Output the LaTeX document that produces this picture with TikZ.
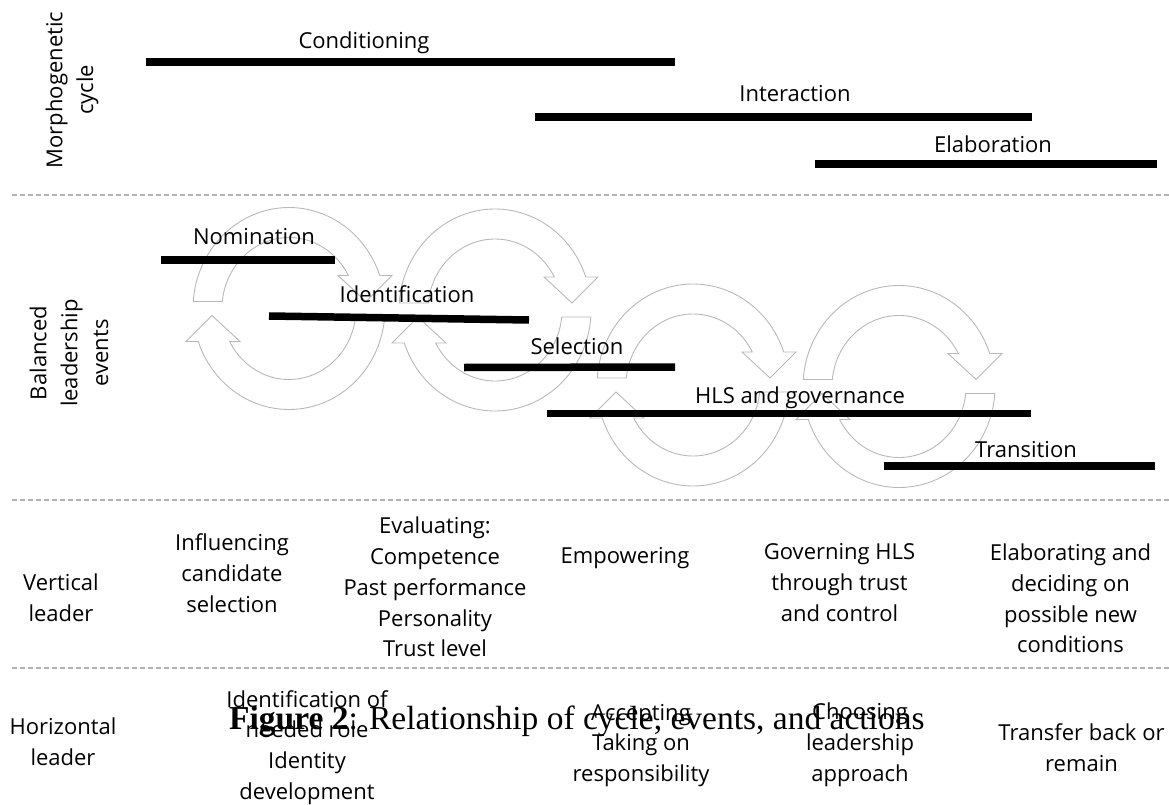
\documentclass[tikz,border=0pt]{standalone}
\usepackage{fontspec}
\setmainfont{Open Sans}
\newfontfamily\capfont{Liberation Serif}
\begin{document}
\begin{tikzpicture}[x=1pt,y=-1pt,
  bar/.style={line width=7.5pt, black},
  sep/.style={draw=black!30, line width=1.1pt, dash pattern=on 5pt off 3pt},
  ring/.style={draw=black!28, line width=0.9pt},
  txt/.style={font=\fontsize{22}{30.8}\selectfont, inner sep=0pt, align=center},
  barlab/.style={font=\fontsize{22}{30.8}\selectfont, inner sep=0pt, anchor=base},
  side/.style={txt, rotate=90},
  cyc/.pic={
    \draw[ring] plot[domain=183.97:340.93,samples=60] ({96*cos(\x)},{101*sin(\x)})
      -- (103,-33) -- (77,-7) -- (49,-33)
      -- plot[domain=332.30:185.66,samples=60] ({67*cos(\x)},{71*sin(\x)}) -- cycle;
    \draw[ring] plot[domain=3.97:160.93,samples=60] ({96*cos(\x)},{101*sin(\x)})
      -- (-103,33) -- (-77,7) -- (-49,33)
      -- plot[domain=152.30:5.66,samples=60] ({67*cos(\x)},{71*sin(\x)}) -- cycle;
  }
]
\useasboundingbox (0,0) rectangle (1169,805);

% separators
\coordinate (s1a) at (12,195);  \coordinate (s1b) at (1169,195);
\coordinate (s2a) at (12,500);  \coordinate (s2b) at (1169,500);
\coordinate (s3a) at (12,668);  \coordinate (s3b) at (1169,668);
\draw[sep] (s1a) -- (s1b);
\draw[sep] (s2a) -- (s2b);
\draw[sep] (s3a) -- (s3b);

% circular arrows
\pic (c1) at (289,308.5) {cyc};
\pic (c2) at (495,310) {cyc};
\pic (c3) at (693,385) {cyc};
\pic (c4) at (899,386.5) {cyc};

% bars
\coordinate (condA) at (146,62);   \coordinate (condB) at (675,62);
\coordinate (interA) at (535,117); \coordinate (interB) at (1032,117);
\coordinate (elabA) at (815,164);  \coordinate (elabB) at (1157,164);
\coordinate (nomA) at (161,260);   \coordinate (nomB) at (335,260);
\coordinate (idA) at (269,316);    \coordinate (idB) at (529,320);
\coordinate (selA) at (464,367.5); \coordinate (selB) at (675,367);
\coordinate (hlsA) at (547,413.5); \coordinate (hlsB) at (1031,413.5);
\coordinate (traA) at (884,466);   \coordinate (traB) at (1155,466);
\draw[bar] (condA) -- (condB);
\draw[bar] (interA) -- (interB);
\draw[bar] (elabA) -- (elabB);
\draw[bar] (nomA) -- (nomB);
\draw[bar] (idA) -- (idB);
\draw[bar] (selA) -- (selB);
\draw[bar] (hlsA) -- (hlsB);
\draw[bar] (traA) -- (traB);

% bar labels
\node[barlab] (lcond) at (364,49) {Conditioning};
\node[barlab] (linter) at (795,102) {Interaction};
\node[barlab] (lelab) at (993,153) {Elaboration};
\node[barlab] (lnom) at (254,244) {Nomination};
\node[barlab] (lid) at (407,302) {Identification};
\node[barlab] (lsel) at (577,354) {Selection};
\node[barlab] (lhls) at (800,403) {HLS and governance};
\node[barlab] (ltra) at (1026,457) {Transition};

% side labels
\node[side] (morph) at (72,90) {Morphogenetic\\cycle};
\node[side] (bal) at (69,353) {Balanced\\leadership\\events};
\node[txt] (vert) at (61,598) {Vertical\\leader};
\node[txt] (horiz) at (63,742) {Horizontal\\leader};

% vertical leader row
\node[txt] (v1) at (232,573) {Influencing\\candidate\\selection};
\node[txt] (v2) at (435,587) {Evaluating:\\Competence\\Past performance\\Personality\\Trust level};
\node[txt] (v3) at (625,558) {Empowering};
\node[txt] (v4) at (839.5,582.5) {Governing HLS\\through trust\\and control};
\node[txt] (v5) at (1070.5,598.5) {Elaborating and\\deciding on\\possible new\\conditions};

% horizontal leader row
\node[txt] (h1) at (307,747.5) {Identification of\\needed role\\Identity\\development};
\node[txt] (h2) at (641,745.5) {Accepting\\Taking on\\responsibility};
\node[txt] (h3) at (860,745) {Choosing\\leadership\\approach};
\node[txt] (h4) at (1081.5,748) {Transfer back or\\remain};

% caption
\node[anchor=base west, inner sep=0pt, font=\capfont\fontsize{33.5}{36}\selectfont] (cap) at (229,729)
  {\textbf{Figure 2}: Relationship of cycle, events, and actions};
\end{tikzpicture}
\end{document}
